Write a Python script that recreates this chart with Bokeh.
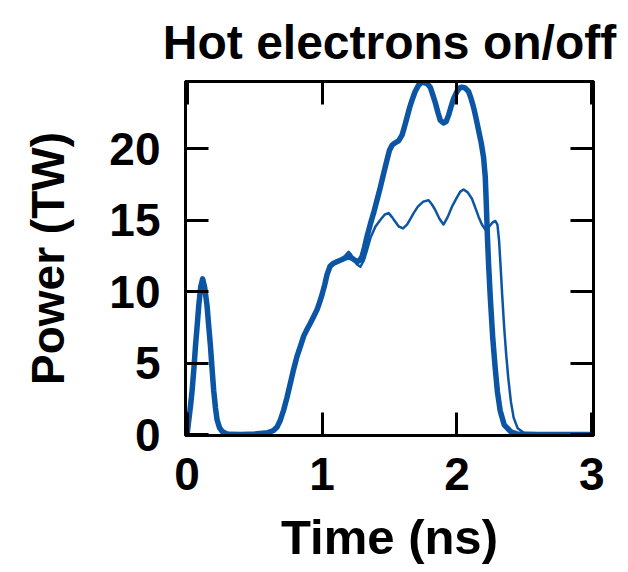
from bokeh.plotting import figure
from bokeh.models import Range1d, LinearAxis, FixedTicker, CustomJSTickFormatter
from bokeh.embed import file_html
from bokeh.resources import INLINE

# ---- data ----
x_ticks = [0, 1, 2, 3]
y_ticks = [0, 5, 10, 15, 20]

time_on = [0.0, 0.012, 0.025, 0.037, 0.05, 0.062, 0.075, 0.086, 0.10, 0.115,
           0.13, 0.148, 0.16, 0.173, 0.185, 0.197, 0.21, 0.222, 0.24, 0.26,
           0.29, 0.32, 0.40, 0.50, 0.60, 0.64, 0.667, 0.69, 0.716, 0.74,
           0.765, 0.79, 0.815, 0.84, 0.864, 0.89, 0.913, 0.94, 0.963, 0.98,
           1.0, 1.02, 1.037, 1.06, 1.086, 1.11, 1.148, 1.18, 1.2, 1.23,
           1.259, 1.28, 1.296, 1.315, 1.333, 1.36, 1.382, 1.41, 1.432, 1.455,
           1.481, 1.50, 1.519, 1.54, 1.567, 1.593, 1.61, 1.63, 1.65, 1.667,
           1.69, 1.716, 1.74, 1.76, 1.78, 1.802, 1.82, 1.84, 1.86, 1.876,
           1.9, 1.92, 1.938, 1.955, 1.975, 2.0, 2.02, 2.037, 2.06, 2.086,
           2.105, 2.123, 2.14, 2.16, 2.18, 2.197, 2.21, 2.218, 2.226, 2.234,
           2.247, 2.265, 2.284, 2.30, 2.32, 2.35, 2.40, 2.45, 2.6, 3.0]
power_on = [0.05, 1.0, 2.0, 3.1, 4.6, 6.2, 7.7, 9.0, 10.3, 10.9,
            10.3, 9.0, 7.6, 6.2, 4.6, 3.1, 1.9, 1.05, 0.5, 0.23,
            0.08, 0.03, 0.02, 0.05, 0.15, 0.3, 0.55, 1.0, 1.75, 2.6,
            3.6, 4.6, 5.5, 6.2, 6.9, 7.4, 7.8, 8.3, 8.75, 9.2,
            9.8, 10.5, 11.2, 11.8, 12.0, 12.1, 12.25, 12.4, 12.45, 12.3,
            12.1, 12.2, 12.45, 13.1, 13.85, 14.8, 15.5, 16.5, 17.3, 18.2,
            19.2, 19.9, 20.25, 20.4, 20.55, 20.95, 21.5, 22.2, 22.9, 23.4,
            24.0, 24.45, 24.65, 24.6, 24.55, 24.3, 23.8, 23.2, 22.5, 22.0,
            21.8, 21.9, 22.35, 22.9, 23.5, 24.0, 24.25, 24.3, 24.25, 24.0,
            23.5, 22.9, 22.2, 21.3, 20.4, 19.4, 18.0, 16.0, 13.8, 12.0,
            9.6, 6.8, 4.6, 3.0, 1.7, 0.7, 0.2, 0.05, 0.02, 0.02]

time_off = [0.0, 0.012, 0.025, 0.037, 0.05, 0.062, 0.075, 0.086, 0.10, 0.115,
            0.13, 0.148, 0.16, 0.173, 0.185, 0.197, 0.21, 0.222, 0.24, 0.26,
            0.29, 0.32, 0.40, 0.50, 0.60, 0.64, 0.667, 0.69, 0.716, 0.74,
            0.765, 0.79, 0.815, 0.84, 0.864, 0.89, 0.913, 0.94, 0.963, 0.98,
            1.0, 1.02, 1.037, 1.06, 1.086, 1.11, 1.13, 1.16, 1.197, 1.215,
            1.234, 1.26, 1.284, 1.31, 1.333, 1.36, 1.395, 1.43, 1.465, 1.494,
            1.52, 1.543, 1.57, 1.6, 1.63, 1.655, 1.679, 1.71, 1.75, 1.79,
            1.815, 1.84, 1.87, 1.9, 1.93, 1.963, 2.0, 2.025, 2.049, 2.08,
            2.111, 2.135, 2.16, 2.185, 2.21, 2.23, 2.247, 2.265, 2.284, 2.30,
            2.312, 2.322, 2.335, 2.35, 2.365, 2.38, 2.40, 2.42, 2.45, 2.5,
            2.6, 3.0]
power_off = [0.05, 1.0, 2.0, 3.1, 4.6, 6.2, 7.7, 9.0, 10.3, 10.9,
             10.3, 9.0, 7.6, 6.2, 4.6, 3.1, 1.9, 1.05, 0.5, 0.23,
             0.08, 0.03, 0.02, 0.05, 0.15, 0.3, 0.55, 1.0, 1.75, 2.6,
             3.6, 4.6, 5.5, 6.2, 6.9, 7.4, 7.8, 8.3, 8.75, 9.2,
             9.8, 10.5, 11.2, 11.8, 12.0, 12.1, 12.2, 12.4, 12.8, 12.6,
             12.3, 11.9, 11.75, 12.2, 12.9, 13.8, 14.55, 15.0, 15.4, 15.5,
             15.2, 14.9, 14.55, 14.43, 14.7, 15.1, 15.5, 15.95, 16.3, 16.4,
             16.1, 15.7, 15.1, 14.7, 15.2, 15.95, 16.6, 17.0, 17.15, 16.95,
             16.5, 15.9, 15.25, 14.7, 14.35, 14.45, 14.65, 14.85, 14.95, 14.7,
             13.6, 12.0, 9.8, 7.5, 5.6, 4.0, 2.3, 1.2, 0.45, 0.1,
             0.02, 0.02]

BLUE = "#0b55a4"
FONT = "Liberation Sans"

p = figure(width=628, height=572, output_backend="svg", toolbar_location=None,
           x_range=Range1d(-0.012, 3.012), y_range=Range1d(-0.05, 24.7),
           min_border_left=185, min_border_right=35,
           min_border_top=81, min_border_bottom=137,
           title="Hot electrons on/off")

p.title.text_font = FONT
p.title.text_font_size = "48px"
p.title.text_font_style = "bold"
p.title.align = "center"
p.title.standoff = 26
p.title.text_color = "black"

p.xgrid.visible = False
p.ygrid.visible = False
p.outline_line_color = "black"
p.outline_line_width = 3
p.background_fill_color = "white"
p.border_fill_color = "white"

p.line(time_on, power_on, line_color=BLUE, line_width=5.5, line_join="round", line_cap="round")
p.line(time_off, power_off, line_color=BLUE, line_width=2.5, line_join="round", line_cap="round")

def style_axis(ax, ticks, show_labels):
    ax.ticker = FixedTicker(ticks=ticks)
    ax.major_tick_in = 23
    ax.major_tick_out = 0
    ax.minor_tick_in = 0
    ax.minor_tick_out = 0
    ax.major_tick_line_width = 3
    ax.major_tick_line_color = "black"
    ax.axis_line_width = 3
    ax.axis_line_color = "black"
    ax.major_label_text_font = FONT
    ax.major_label_text_font_style = "bold"
    ax.major_label_text_color = "black"
    ax.axis_label_text_font = FONT
    ax.axis_label_text_font_style = "bold"
    ax.axis_label_text_color = "black"
    if show_labels:
        ax.major_label_text_font_size = "46px"
        ax.axis_label_text_font_size = "46px"
    else:
        ax.formatter = CustomJSTickFormatter(code="return '';")
        ax.major_label_text_font_size = "1px"
        ax.major_label_standoff = 0

xa = p.xaxis[0]
ya = p.yaxis[0]
style_axis(xa, x_ticks, True)
style_axis(ya, y_ticks, True)
xa.axis_label = "Time (ns)"
ya.axis_label = "Power (TW)"
xa.axis_label_text_font_size = "49px"
xa.major_label_standoff = 22
xa.axis_label_standoff = 17
ya.major_label_standoff = 25
ya.axis_label_standoff = 32

top = LinearAxis()
style_axis(top, x_ticks, False)
p.add_layout(top, "above")
right = LinearAxis()
style_axis(right, y_ticks, False)
p.add_layout(right, "right")

open("out.html", "w").write(file_html(p, INLINE))
